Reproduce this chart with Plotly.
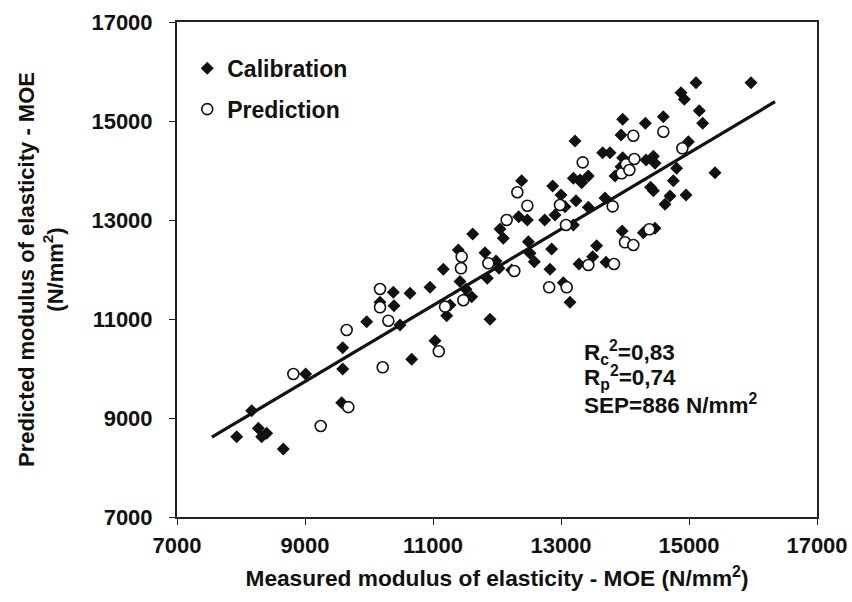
import plotly.graph_objects as go

# Calibration set (measured, predicted) in N/mm2
cal_x = [7933, 8167, 8271, 8323, 8401, 8661, 9010, 9589, 9589, 9573, 9964,
         10172, 10380, 10391, 10484, 10667, 10641, 10953, 11031,
         11161, 11266, 11214, 11422, 11516, 11604, 11500,
         11396, 11620, 11812, 11849, 11891, 11984, 12031, 12047, 12099, 12229,
         12339, 12385, 12474, 12490, 12516, 12583, 12745,
         12828, 12854, 12870, 12906, 13000, 13036, 13063, 13141, 13193, 13193,
         13219, 13234, 13281, 13297, 13323, 13427, 13427, 13495, 13557, 13651,
         13688, 13703, 13766, 13844, 13938, 13938, 13955, 13964, 13964,
         14286, 14318, 14328, 14400, 14443, 14443, 14469, 14469,
         14599, 14625, 14703, 14755, 14807, 14875, 14927, 14953, 14990,
         15109, 15161, 15214, 15406, 15969]
cal_y = [8622, 9148, 8792, 8622, 8690, 8374, 9889, 10420, 9990, 9309, 10946,
         11337, 11539, 11268, 10879, 10186, 11519, 11640, 10562,
         12004, 11283, 11067, 11760, 11600, 11451, 11420,
         12394, 12717, 12340, 11822, 10993, 12172, 12024, 12818, 12630, 11990,
         13067, 13794, 13000, 12562, 12327, 12158, 13000,
         12004, 12414, 13687, 13101, 13505, 11734, 13269, 11337, 13842, 12899,
         14596, 13390, 12111, 13808, 13754, 13889, 13256, 12259, 12481, 14360,
         13444, 12145, 14360, 13889, 14717, 14077, 12780, 15034, 14259,
         12740, 14953, 14212, 13660, 13590, 14290, 14145, 12832,
         15087, 13317, 13485, 13794, 14044, 15572, 15438, 13505, 14582,
         15774, 15208, 14953, 13956, 15774]

# Prediction set
pred_x = [8818, 9245, 9651, 9677, 10172, 10172, 10302, 10214, 11090, 11188,
          11448, 11437, 11474, 11865, 12151, 12270, 12318, 12474, 12815,
          12984, 13078, 13089, 13339, 13427, 13807, 13828, 13948, 14000,
          14016, 14068, 14130, 14130, 14146, 14380, 14599, 14896]
pred_y = [9889, 8838, 10778, 9219, 11606, 11236, 10966, 10024, 10347, 11249,
          12259, 12024, 11380, 12125, 13000, 11970, 13560, 13289, 11640,
          13303, 12899, 11640, 14165, 12091, 13276, 12111, 13943, 12549,
          14125, 14010, 14703, 12495, 14232, 12812, 14784, 14448]

# Regression line end points
fit_x = [7545, 16345]
fit_y = [8615, 15390]

tick_vals = [7000, 9000, 11000, 13000, 15000, 17000]
tick_text = ["<b>%d</b>" % v for v in tick_vals]

stats_lines = ["<b>R<sub>c</sub><sup>2</sup>=0,83</b>",
               "<b>R<sub>p</sub><sup>2</sup>=0,74</b>",
               "<b>SEP=886 N/mm<sup>2</sup></b>"]

FONT = "Liberation Sans, Arial, sans-serif"
FS = 23

fig = go.Figure()
fig.add_trace(go.Scatter(x=fit_x, y=fit_y, mode="lines",
                         line=dict(color="#111111", width=3.2),
                         showlegend=False, hoverinfo="skip"))
fig.add_trace(go.Scatter(x=cal_x, y=cal_y, mode="markers", name="<b>Calibration</b>",
                         legendgroup="c",
                         marker=dict(symbol="diamond", size=10, color="#111111",
                                     line=dict(width=0))))
fig.add_trace(go.Scatter(x=pred_x, y=pred_y, mode="markers", name="<b>Prediction</b>",
                         legendgroup="p",
                         marker=dict(symbol="circle", size=11, color="white",
                                     line=dict(color="#111111", width=1.6))))

axis_common = dict(
    range=[7000, 17000], tickvals=tick_vals, ticktext=tick_text,
    ticks="outside", ticklen=6, automargin=False,
    tickwidth=1.2, tickcolor="#222222", showline=True, linecolor="#222222",
    linewidth=2, mirror=True, showgrid=False, zeroline=False,
    tickfont=dict(family=FONT, size=FS - 1, color="#111111"),
)

annotations = []
for i, txt in enumerate(stats_lines):
    annotations.append(dict(
        x=0.633, y=0.333 - i * 0.052, xref="paper", yref="paper",
        xanchor="left", yanchor="middle", align="left", showarrow=False,
        text=txt, font=dict(family=FONT, size=FS - 0.5, color="#111111")))

fig.update_layout(
    width=852, height=602,
    margin=dict(l=177, r=35, t=22, b=85),
    paper_bgcolor="white", plot_bgcolor="white",
    font=dict(family=FONT, color="#111111"),
    xaxis=dict(**axis_common, ticklabelstandoff=2,
               title=dict(text="<b>Measured modulus of elasticity - MOE (N/mm<sup>2</sup>)</b>",
                          font=dict(family=FONT, size=FS - 0.3, color="#111111"),
                          standoff=13)),
    yaxis=dict(**axis_common, ticklabelstandoff=12,
               title=dict(text="<b>Predicted modulus of elasticity - MOE<br>(N/mm<sup>2</sup>)</b>",
                          font=dict(family=FONT, size=FS - 1, color="#111111"),
                          standoff=22)),
    legend=dict(x=0.016, y=0.95, xanchor="left", yanchor="top",
                bgcolor="rgba(0,0,0,0)", borderwidth=0,
                font=dict(family=FONT, size=FS, color="#111111"),
                traceorder="grouped", tracegroupgap=8, itemwidth=30),
    annotations=annotations,
)

fig.write_html("out.html")
